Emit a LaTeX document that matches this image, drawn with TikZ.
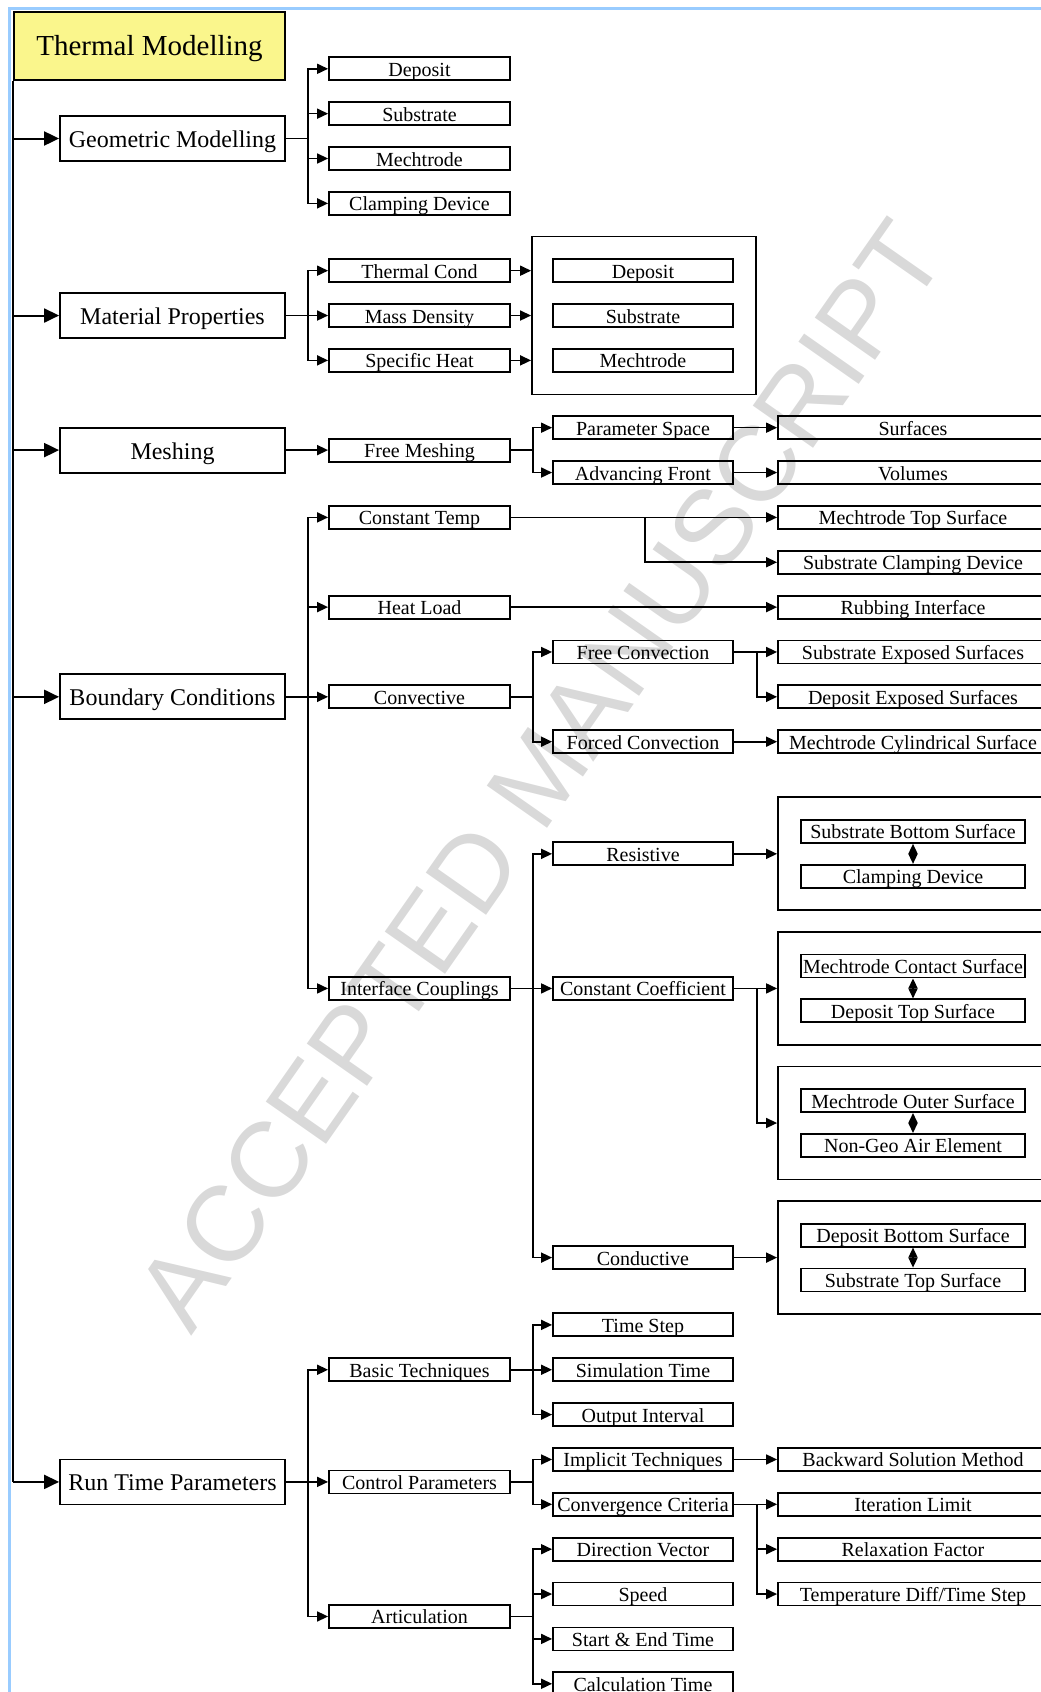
\documentclass[tikz,border=0pt]{standalone}
\usepackage{fontspec}
\setmainfont{Liberation Serif}
\newfontfamily\wmfont{Liberation Sans}
\usetikzlibrary{arrows.meta}
\definecolor{tmyellow}{RGB}{250,246,140}
\definecolor{frameblue}{RGB}{153,204,255}
\definecolor{wmgray}{RGB}{217,217,217}
\newcommand\R[1]{68.8+44.86*#1}
\begin{document}
\begin{tikzpicture}[x=1pt,y=-1pt,
  basebox/.style={draw, line width=1.8pt, inner sep=0pt, text height=17pt, text depth=2pt,
     minimum height=23pt, font=\fontsize{20}{20}\selectfont},
  lbox/.style={basebox, minimum width=181pt},
  lthree/.style={basebox, minimum width=180pt},
  lfour/.style={basebox, minimum width=270pt},
  inbox/.style={basebox, minimum width=224pt},
  topbox/.style={draw, line width=1.8pt, inner sep=0pt, minimum width=225pt, minimum height=45pt,
     text height=20pt, text depth=2pt, font=\fontsize{24}{24}\selectfont},
  rootbox/.style={draw, line width=2.5pt, fill=tmyellow, inner sep=0pt, minimum width=271pt,
     minimum height=68pt, text height=23pt, text depth=5pt, font=\fontsize{29}{29}\selectfont},
  matframe/.style={draw, line width=1.8pt, minimum width=224pt, minimum height=158pt, inner sep=0pt},
  ifframe/.style={draw, line width=1.8pt, minimum width=270pt, minimum height=113pt, inner sep=0pt},
  conn/.style={line width=1.6pt},
  arr/.style={conn, -{Triangle[length=11pt,width=10pt]}},
  bigarr/.style={line width=2pt, -{Triangle[length=15pt,width=14pt]}},
  dbl/.style={line width=1.6pt, {Triangle[length=10pt,width=9pt]}-{Triangle[length=10pt,width=9pt]}}
]
\useasboundingbox (0,0) rectangle (1041,1692);

% watermark
\node[rotate=55, text=wmgray, inner sep=0pt, font=\wmfont\fontsize{107}{107}\selectfont] (wm) at (540,775) {ACCEPTED MANUSCRIPT};

% frame
\draw[frameblue, line width=3.5pt] (9.5,1700) -- (9.5,8.5) -- (1050,8.5);

% root and level 1
\node[rootbox] (tm) at (149.5,46) {Thermal Modelling};
\node[topbox] (geo) at (172.5,138.5) {Geometric Modelling};
\node[topbox] (mat) at (172.5,{\R{5.5}}) {Material Properties};
\node[topbox] (mesh) at (172.5,{\R{8.5}}) {Meshing};
\node[topbox] (bc) at (172.5,{\R{14}}) {Boundary Conditions};
\node[topbox] (rtp) at (172.5,{\R{31.5}}) {Run Time Parameters};

% level 2
\node[lbox] (g1) at (419.5,{\R{0}}) {Deposit};
\node[lbox] (g2) at (419.5,{\R{1}}) {Substrate};
\node[lbox] (g3) at (419.5,{\R{2}}) {Mechtrode};
\node[lbox] (g4) at (419.5,{\R{3}}) {Clamping Device};
\node[lbox] (m1) at (419.5,{\R{4.5}}) {Thermal Cond};
\node[lbox] (m2) at (419.5,{\R{5.5}}) {Mass Density};
\node[lbox] (m3) at (419.5,{\R{6.5}}) {Specific Heat};
\node[lbox] (fm) at (419.5,{\R{8.5}}) {Free Meshing};
\node[lbox] (ct) at (419.5,{\R{10}}) {Constant Temp};
\node[lbox] (hl) at (419.5,{\R{12}}) {Heat Load};
\node[lbox] (cv) at (419.5,{\R{14}}) {Convective};
\node[lbox] (ic) at (419.5,{\R{20.5}}) {Interface Couplings};
\node[lbox] (bt) at (419.5,{\R{29}}) {Basic Techniques};
\node[lbox] (cp) at (419.5,{\R{31.5}}) {Control Parameters};
\node[lbox] (ar) at (419.5,{\R{34.5}}) {Articulation};

% material frame
\node[matframe] (mf) at (644,{\R{5.5}}) {};
\node[lthree] (md) at (643,{\R{4.5}}) {Deposit};
\node[lthree] (ms) at (643,{\R{5.5}}) {Substrate};
\node[lthree] (mm) at (643,{\R{6.5}}) {Mechtrode};

% level 3
\node[lthree] (ps) at (643,{\R{8}}) {Parameter Space};
\node[lthree] (af) at (643,{\R{9}}) {Advancing Front};
\node[lthree] (fc) at (643,{\R{13}}) {Free Convection};
\node[lthree] (fo) at (643,{\R{15}}) {Forced Convection};
\node[lthree] (rs) at (643,{\R{17.5}}) {Resistive};
\node[lthree] (cc) at (643,{\R{20.5}}) {Constant Coefficient};
\node[lthree] (cd) at (643,{\R{26.5}}) {Conductive};
\node[lthree] (ts) at (643,{\R{28}}) {Time Step};
\node[lthree] (st) at (643,{\R{29}}) {Simulation Time};
\node[lthree] (oi) at (643,{\R{30}}) {Output Interval};
\node[lthree] (it) at (643,{\R{31}}) {Implicit Techniques};
\node[lthree] (cr) at (643,{\R{32}}) {Convergence Criteria};
\node[lthree] (dv) at (643,{\R{33}}) {Direction Vector};
\node[lthree] (sp) at (643,{\R{34}}) {Speed};
\node[lthree] (se) at (643,{\R{35}}) {Start \& End Time};
\node[lthree] (ctm) at (643,{\R{36}}) {Calculation Time};

% level 4
\node[lfour] (su) at (913,{\R{8}}) {Surfaces};
\node[lfour] (vo) at (913,{\R{9}}) {Volumes};
\node[lfour] (mts) at (913,{\R{10}}) {Mechtrode Top Surface};
\node[lfour] (scd) at (913,{\R{11}}) {Substrate Clamping Device};
\node[lfour] (ri) at (913,{\R{12}}) {Rubbing Interface};
\node[lfour] (ses) at (913,{\R{13}}) {Substrate Exposed Surfaces};
\node[lfour] (des) at (913,{\R{14}}) {Deposit Exposed Surfaces};
\node[lfour] (mcs) at (913,{\R{15}}) {Mechtrode Cylindrical Surface};
\node[lfour] (bsm) at (913,{\R{31}}) {Backward Solution Method};
\node[lfour] (il) at (913,{\R{32}}) {Iteration Limit};
\node[lfour] (rf) at (913,{\R{33}}) {Relaxation Factor};
\node[lfour] (td) at (913,{\R{34}}) {Temperature Diff/Time Step};

% interface frames
\node[ifframe] (f1) at (913,{\R{17.5}}) {};
\node[ifframe] (f2) at (913,{\R{20.5}}) {};
\node[ifframe] (f3) at (913,{\R{23.5}}) {};
\node[ifframe] (f4) at (913,{\R{26.5}}) {};
\node[inbox] (f1a) at (913,{\R{17}}) {Substrate Bottom Surface};
\node[inbox] (f1b) at (913,{\R{18}}) {Clamping Device};
\node[inbox] (f2a) at (913,{\R{20}}) {Mechtrode Contact Surface};
\node[inbox] (f2b) at (913,{\R{21}}) {Deposit Top Surface};
\node[inbox] (f3a) at (913,{\R{23}}) {Mechtrode Outer Surface};
\node[inbox] (f3b) at (913,{\R{24}}) {Non-Geo Air Element};
\node[inbox] (f4a) at (913,{\R{26}}) {Deposit Bottom Surface};
\node[inbox] (f4b) at (913,{\R{27}}) {Substrate Top Surface};

% trunk
\draw[line width=2pt] (tm.south west) -- (tm.south west |- rtp.west);
\foreach \n in {geo,mat,mesh,bc,rtp}
  \draw[bigarr] (tm.south west |- \n.west) -- (\n.west);

% geometric
\foreach \c in {g1,g2,g3,g4} \draw[arr] (geo.east) -- ++(22,0) |- (\c.west);
% material
\foreach \c in {m1,m2,m3} {
  \draw[arr] (mat.east) -- ++(22,0) |- (\c.west);
  \draw[arr] (\c.east) -- (\c.east -| mf.west);
}
% meshing
\draw[arr] (mesh.east) -- (fm.west);
\foreach \c in {ps,af} \draw[arr] (fm.east) -- ++(22,0) |- (\c.west);
\draw[arr] (ps.east) -- (su.west);
\draw[arr] (af.east) -- (vo.west);
% boundary conditions
\foreach \c in {ct,hl,cv,ic} \draw[arr] (bc.east) -- ++(22,0) |- (\c.west);
\draw[arr] (ct.east) -- (mts.west);
\draw[arr] (ct.east) -- ++(134,0) |- (scd.west);
\draw[arr] (hl.east) -- (ri.west);
\foreach \c in {fc,fo} \draw[arr] (cv.east) -- ++(22,0) |- (\c.west);
\draw[arr] (fc.east) -- (ses.west);
\draw[arr] (fc.east) -- ++(23,0) |- (des.west);
\draw[arr] (fo.east) -- (mcs.west);
\foreach \c in {rs,cc,cd} \draw[arr] (ic.east) -- ++(22,0) |- (\c.west);
\draw[arr] (rs.east) -- (f1.west);
\draw[arr] (cc.east) -- (f2.west);
\draw[arr] (cc.east) -- ++(23,0) |- (f3.west);
\draw[arr] (cd.east) -- (f4.west);
\draw[dbl] (f1a.south) -- (f1b.north);
\draw[dbl] (f2a.south) -- (f2b.north);
\draw[dbl] (f3a.south) -- (f3b.north);
\draw[dbl] (f4a.south) -- (f4b.north);
% run time parameters
\foreach \c in {bt,cp,ar} \draw[arr] (rtp.east) -- ++(22,0) |- (\c.west);
\foreach \c in {ts,st,oi} \draw[arr] (bt.east) -- ++(22,0) |- (\c.west);
\foreach \c in {it,cr} \draw[arr] (cp.east) -- ++(22,0) |- (\c.west);
\foreach \c in {dv,sp,se,ctm} \draw[arr] (ar.east) -- ++(22,0) |- (\c.west);
\draw[arr] (it.east) -- (bsm.west);
\draw[arr] (cr.east) -- (il.west);
\foreach \c in {rf,td} \draw[arr] (cr.east) -- ++(23,0) |- (\c.west);
\end{tikzpicture}
\end{document}
